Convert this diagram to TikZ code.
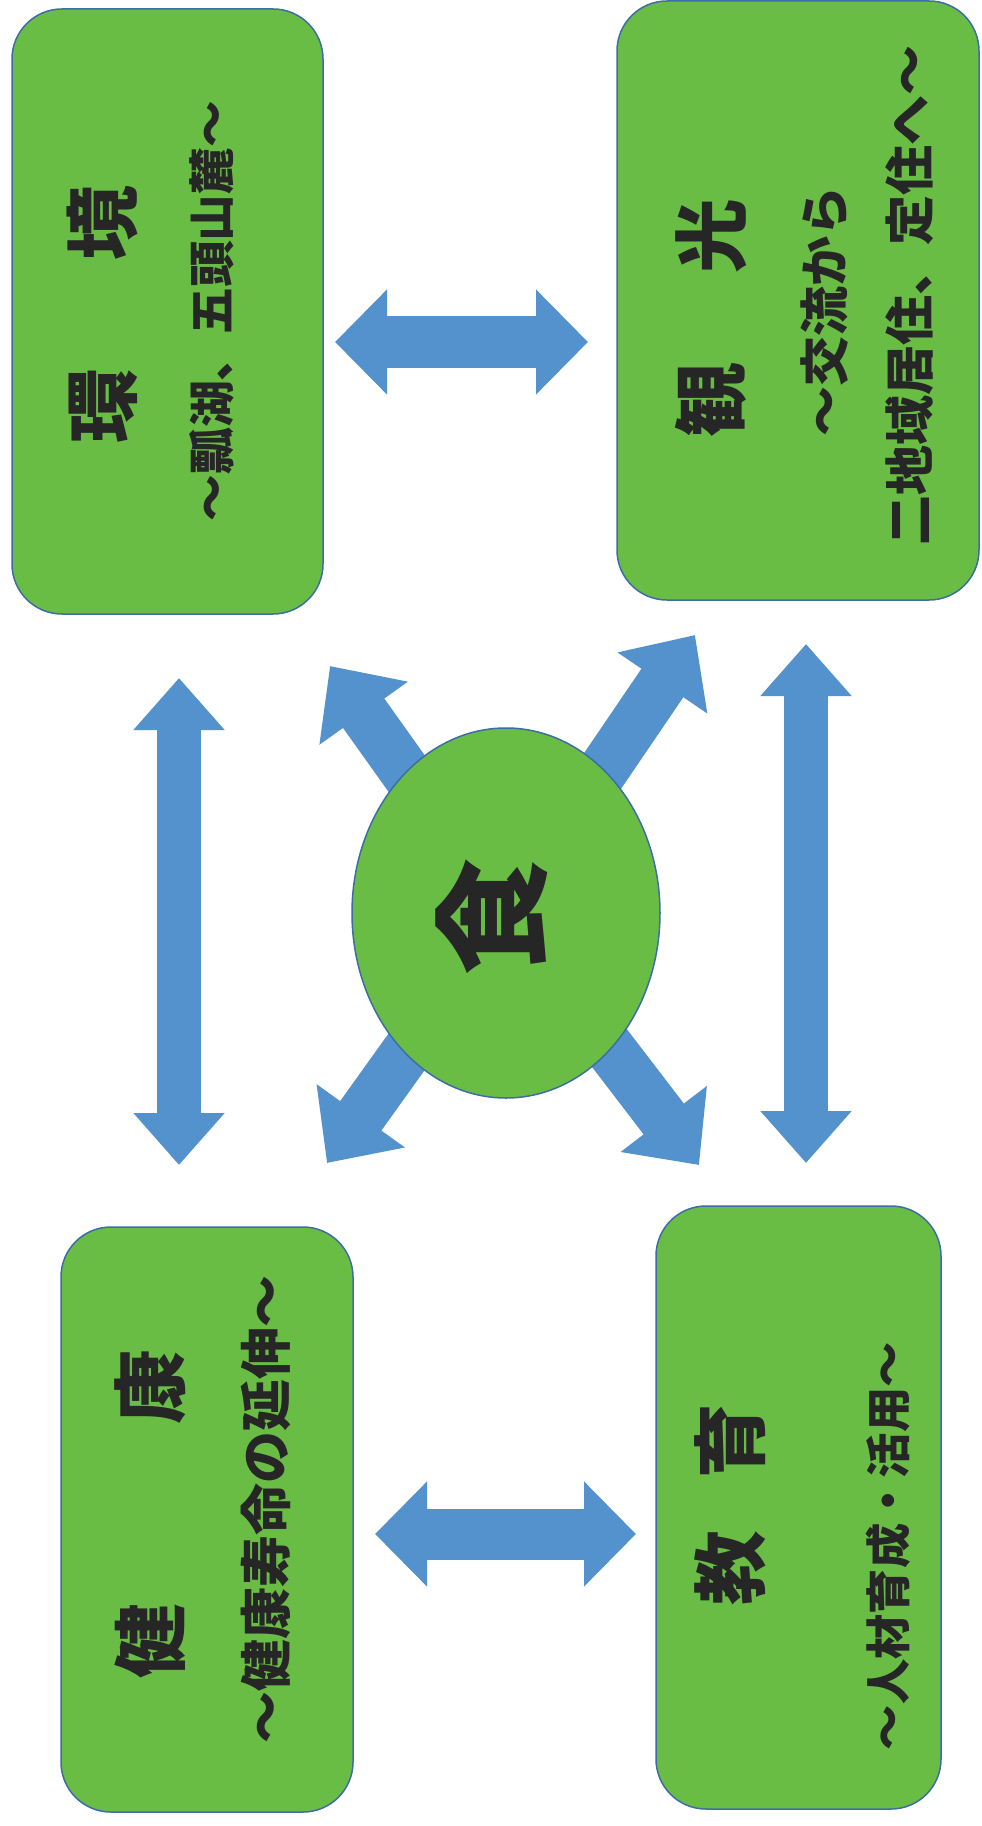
\documentclass[tikz,border=0pt]{standalone}
\usepackage{fontspec}
\newfontfamily\jp{Noto Sans CJK JP}
\usetikzlibrary{arrows.meta,shapes.geometric}
\definecolor{boxgreen}{RGB}{105,189,69}
\definecolor{arrowblue}{RGB}{84,146,206}
\definecolor{edgeblue}{RGB}{60,110,165}
\newlength\pxu
\setlength\pxu{0.75pt}
\begin{document}
\begin{tikzpicture}[x=0.75pt,y=-0.75pt,
  greenbox/.style={draw=edgeblue,line width=1.5\pxu,fill=boxgreen,rounded corners=50\pxu,inner sep=0pt},
  vtext/.style={rotate=90,inner sep=0pt,anchor=center,text=black!85},
  titletext/.style={vtext,font=\jp\bfseries\fontsize{56}{60}\selectfont},
  hbar/.style={arrowblue,line width=38.25pt,{Triangle[length=39pt,width=76.5pt]}-{Triangle[length=39pt,width=76.5pt]}},
  vbar/.style={arrowblue,line width=33pt,{Triangle[length=39pt,width=66pt]}-{Triangle[length=39pt,width=66pt]}},
  dbar/.style={arrowblue,line width=38pt,-{Triangle[length=43.5pt,width=78.75pt]}}
]
\useasboundingbox (0,0) rectangle (981,1826);
\fill[white] (0,0) rectangle (981,1826);

% boxes
\node[greenbox,minimum width=311\pxu,minimum height=605\pxu] (env) at (167.5,311.5) {};
\node[greenbox,minimum width=362\pxu,minimum height=599\pxu] (tour) at (798,300.5) {};
\node[greenbox,minimum width=292\pxu,minimum height=585\pxu] (health) at (207,1519.5) {};
\node[greenbox,minimum width=285\pxu,minimum height=603\pxu] (edu) at (798.5,1507.5) {};

% texts
\node[titletext] (envT) at (102,315) {環\hspace{1.45em}境};
\node[vtext,font=\jp\bfseries\fontsize{35}{38}\selectfont] (envS) at (212,311) {〜瓢湖、五頭山麓〜};

\node[titletext] (tourT) at (711,318) {観\hspace{1.2em}光};
\node[vtext,font=\jp\bfseries\fontsize{37.5}{40}\selectfont] (tourS1) at (825,311) {〜交流から};
\node[vtext,font=\jp\bfseries\fontsize{37.5}{40}\selectfont] (tourS2) at (910,295) {二地域居住、定住へ〜};

\node[titletext] (healthT) at (150,1514) {健\hspace{2.4em}康};
\node[vtext,font=\jp\bfseries\fontsize{39}{42}\selectfont] (healthS) at (266,1509) {〜健康寿命の延伸〜};

\node[titletext] (eduT) at (730,1505) {教\hspace{0.7em}育};
\node[vtext,font=\jp\bfseries\fontsize{34}{37}\selectfont] (eduS) at (888,1546) {〜人材育成・活用〜};

% connector ends
\coordinate (t1) at (335,342);
\coordinate (t2) at (588,342);
\coordinate (b1) at (375,1534);
\coordinate (b2) at (636,1534);
\coordinate (l1) at (179,678);
\coordinate (l2) at (179,1165);
\coordinate (r1) at (806,644);
\coordinate (r2) at (806,1163);
\coordinate (fc) at (506,913);
\coordinate (ul) at (330,666);
\coordinate (ur) at (695,635);
\coordinate (ll) at (327,1163);
\coordinate (lr) at (699,1165);

\draw[hbar] (t1) -- (t2);
\draw[hbar] (b1) -- (b2);
\draw[vbar] (l1) -- (l2);
\draw[vbar] (r1) -- (r2);
\draw[dbar] (fc) -- (ul);
\draw[dbar] (fc) -- (ur);
\draw[dbar] (fc) -- (ll);
\draw[dbar] (fc) -- (lr);

% centre
\node[ellipse,draw=edgeblue,line width=1.5\pxu,fill=boxgreen,minimum width=308\pxu,minimum height=370\pxu,inner sep=0pt] (food) at (fc) {};
\node[vtext,font=\jp\bfseries\fontsize{88}{92}\selectfont] (foodT) at (492,917) {食};
\end{tikzpicture}
\end{document}
